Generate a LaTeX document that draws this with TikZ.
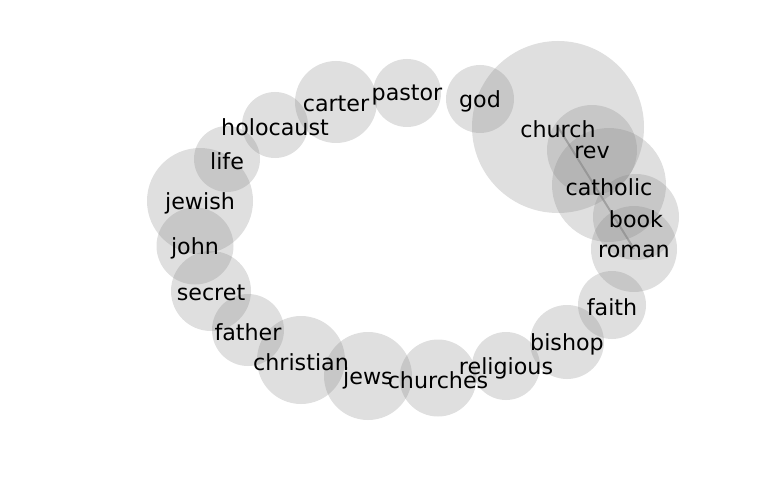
\documentclass[tikz,border=0pt]{standalone}
\usepackage{fontspec}
\setmainfont{DejaVu Sans}
\usetikzlibrary{positioning}

\begin{document}
\begin{tikzpicture}[x=1pt,y=-1pt]
    \useasboundingbox (0,0) rectangle (768,500);
    \tikzset{word/.style={circle,fill=gray,fill opacity=0.25,draw=none,inner sep=0pt},
             wlabel/.style={font=\fontsize{22.2}{22.2}\selectfont,text=black,inner sep=0pt,yshift=-2pt}}
    \begin{scope}[every node/.style={word}]
    \node[minimum size=172] (church) at (558,127) {};
    \node[minimum size=68] (god) at (480,99) {};
    \node[minimum size=68] (pastor) at (407,93) {};
    \node[minimum size=82] (carter) at (336,102) {};
    \node[minimum size=66] (holocaust) at (275,125) {};
    \node[minimum size=66] (life) at (227,159) {};
    \node[minimum size=106] (jewish) at (200,201) {};
    \node[minimum size=77] (john) at (195,246) {};
    \node[minimum size=80] (secret) at (211,291) {};
    \node[minimum size=72] (father) at (248,330) {};
    \node[minimum size=88] (christian) at (301,360) {};
    \node[minimum size=88] (jews) at (368,376) {};
    \node[minimum size=77] (churches) at (438,378) {};
    \node[minimum size=68] (religious) at (506,366) {};
    \node[minimum size=74] (bishop) at (567,342) {};
    \node[minimum size=68] (faith) at (612,305) {};
    \node[minimum size=86] (roman) at (634,249) {};
    \node[minimum size=86] (book) at (636,217) {};
    \node[minimum size=114] (catholic) at (609,185) {};
    \node[minimum size=90] (rev) at (592,150) {};
    \end{scope}
    \begin{scope}[every edge/.style={draw=gray,draw opacity=0.55,line width=2}]
    \path (church.center) edge (roman.center);
    \end{scope}
    \begin{scope}[every node/.style={wlabel}]
    \node (l-church) at (church) {church};
    \node (l-god) at (god) {god};
    \node (l-pastor) at (pastor) {pastor};
    \node (l-carter) at (carter) {carter};
    \node (l-holocaust) at (holocaust) {holocaust};
    \node (l-life) at (life) {life};
    \node (l-jewish) at (jewish) {jewish};
    \node (l-john) at (john) {john};
    \node (l-secret) at (secret) {secret};
    \node (l-father) at (father) {father};
    \node (l-christian) at (christian) {christian};
    \node (l-jews) at (jews) {jews};
    \node (l-churches) at (churches) {churches};
    \node (l-religious) at (religious) {religious};
    \node (l-bishop) at (bishop) {bishop};
    \node (l-faith) at (faith) {faith};
    \node (l-roman) at (roman) {roman};
    \node (l-book) at (book) {book};
    \node (l-catholic) at (catholic) {catholic};
    \node (l-rev) at (rev) {rev};
    \end{scope}
\end{tikzpicture}
\end{document}
